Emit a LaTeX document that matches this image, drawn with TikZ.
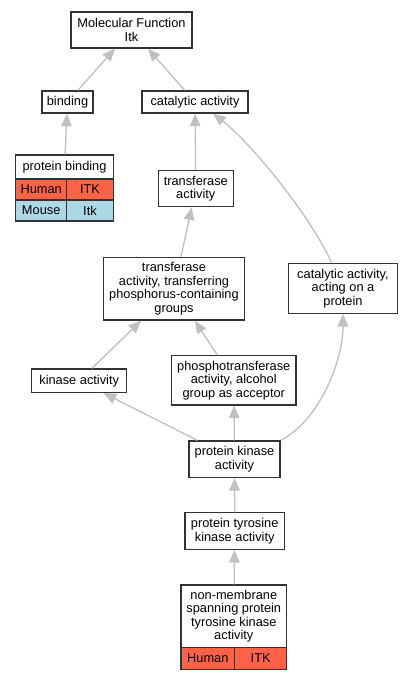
\documentclass[tikz,border=0pt]{standalone}
\usepackage{fontspec}
\setmainfont{Liberation Sans}
\usetikzlibrary{arrows.meta}
\definecolor{tomato}{HTML}{FF6347}
\definecolor{lightblue}{HTML}{ADD8E6}
\definecolor{edgegray}{HTML}{C0C0C0}
\begin{document}
\begin{tikzpicture}[
    x=1pt, y=-1pt,
    every node/.style={font=\fontsize{12.8}{13.4}\selectfont},
    term/.style={draw=black!80, line width=1.4pt, fill=white, inner sep=0pt, align=center},
    cell/.style={draw=black!80, line width=1.4pt, inner sep=0pt},
    link/.style={draw=edgegray, line width=1.3pt, -{Triangle[length=12.5pt, width=10.5pt]}},
]
\useasboundingbox[fill=white] (0,0) rectangle (412,680);

% Terms
\node[term, minimum width=121, minimum height=36] (mf) at (131.5,30) {Molecular Function\\Itk};
\node[term, minimum width=51, minimum height=22] (bind) at (67.5,102) {binding};
\node[term, minimum width=106, minimum height=22] (cat) at (195,102) {catalytic activity};
\node[term, minimum width=97.6, minimum height=23.7] (pb) at (64.5,167) {protein binding};
\node[term, minimum width=75, minimum height=36.4] (tr) at (195.8,188.5) {transferase\\activity};
\node[term, minimum width=140.6, minimum height=62.7] (trp) at (174,288.7) {transferase\\activity, transferring\\phosphorus-containing\\groups};
\node[term, minimum width=108.6, minimum height=50] (catp) at (343,288.3) {catalytic activity,\\acting on a\\protein};
\node[term, minimum width=95, minimum height=23.3] (kin) at (79.2,380.7) {kinase activity};
\node[term, minimum width=124.3, minimum height=49.3] (pho) at (233.8,380.3) {phosphotransferase\\activity, alcohol\\group as acceptor};
\node[term, minimum width=91, minimum height=36.3] (pk) at (234.5,459.2) {protein kinase\\activity};
\node[term, minimum width=99.3, minimum height=36.6] (pty) at (234.7,531) {protein tyrosine\\kinase activity};
\node[term, minimum width=105.7, minimum height=62.7] (nm) at (233.8,616.3) {non-membrane\\spanning protein\\tyrosine kinase\\activity};

% Gene cells
\node[cell, fill=tomato, minimum width=51, minimum height=21] (pbhuman) at (41.2,189.5) {Human};
\node[cell, fill=tomato, minimum width=46.6, minimum height=21] (pbitk) at (90,189.5) {ITK};
\node[cell, fill=lightblue, minimum width=51, minimum height=21] (pbmouse) at (41.2,210.5) {Mouse};
\node[cell, fill=lightblue, minimum width=46.6, minimum height=21] (pbitkm) at (90,210.5) {Itk};
\node[cell, fill=tomato, minimum width=53.7, minimum height=21.6] (nmhuman) at (207.8,658.5) {Human};
\node[cell, fill=tomato, minimum width=52, minimum height=21.6] (nmitk) at (260.7,658.5) {ITK};

% Links
\draw[link] (bind) -- (mf);
\draw[link] (cat) -- (mf);
\draw[link] (pb) -- (bind);
\draw[link] (tr) -- (cat);
\draw[link] (catp.114) .. controls (310,215) and (250,142) .. (cat.-33);
\draw[link] (trp) -- (tr);
\draw[link] (kin) -- (trp);
\draw[link] (pho) -- (trp);
\draw[link] (pk) -- (kin);
\draw[link] (pk) -- (pho);
\draw[link] (pk.north east) .. controls (320,420) and (343,360) .. (catp.south);
\draw[link] (pty) -- (pk);
\draw[link] (nm) -- (pty);

\end{tikzpicture}
\end{document}
